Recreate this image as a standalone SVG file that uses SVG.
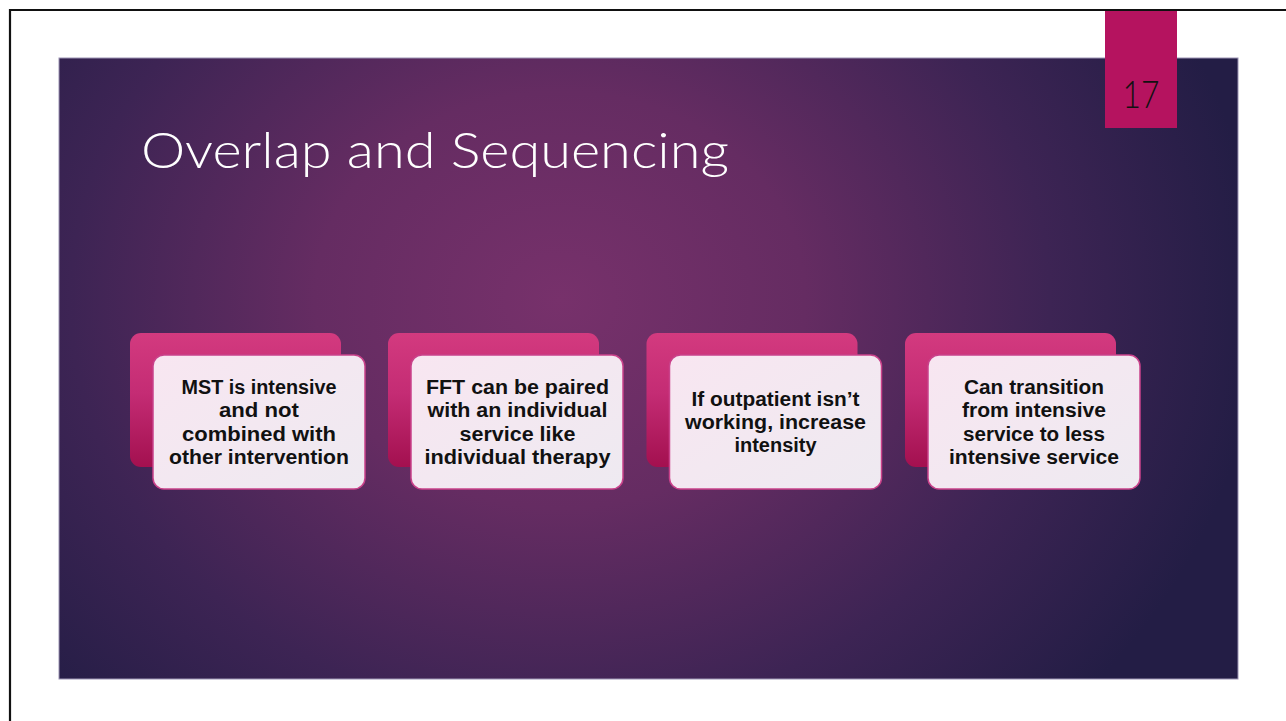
<svg xmlns="http://www.w3.org/2000/svg" width="1286" height="721" viewBox="0 0 1286 721">
  <defs>
    <radialGradient id="bg" gradientUnits="userSpaceOnUse" cx="560" cy="300" r="700" gradientTransform="translate(560 300) scale(1 0.85) translate(-560 -300)">
      <stop offset="0" stop-color="#77316b"/>
      <stop offset="0.35" stop-color="#652c62"/>
      <stop offset="0.7" stop-color="#3d2454"/>
      <stop offset="1" stop-color="#231d45"/>
    </radialGradient>
    <linearGradient id="back" x1="0" y1="0" x2="0" y2="1">
      <stop offset="0" stop-color="#d33a7f"/>
      <stop offset="0.45" stop-color="#c42c74"/>
      <stop offset="1" stop-color="#a3104f"/>
    </linearGradient>
    <linearGradient id="front" x1="0" y1="0" x2="1" y2="1">
      <stop offset="0" stop-color="#f8e6f1"/>
      <stop offset="1" stop-color="#eeeaf1"/>
    </linearGradient>
  </defs>
  <style>
    .back { fill: url(#back); }
    .front { fill: url(#front); stroke: #c9418a; stroke-width: 1.5; }
    .lbl { font-family: "Liberation Sans", Arial, sans-serif; font-weight: bold; font-size: 19.5px; fill: #111111; text-anchor: middle; }
    .frame { stroke: #111111; stroke-width: 2.2; fill: none; }
  </style>
  <rect x="0" y="0" width="1286" height="721" fill="#ffffff"/>
  <path class="frame" d="M10 721 V10 H1286"/>
  <g id="slide">
    <rect x="59" y="58" width="1179" height="621" fill="url(#bg)" stroke="#9c94b4" stroke-width="1"/>
  </g>
  <g id="page-number">
    <rect x="1105" y="11" width="72" height="117" fill="#b5135f"/>
    <text x="1141" y="108" font-family="Lato, 'Open Sans', sans-serif" font-weight="300" font-size="38" fill="#111111" text-anchor="middle" textLength="37" lengthAdjust="spacingAndGlyphs">17</text>
  </g>
  <g id="title">
    <text x="141" y="168" font-family="Lato, 'Open Sans', sans-serif" font-weight="300" font-size="50" fill="#ffffff" textLength="588" lengthAdjust="spacingAndGlyphs">Overlap and Sequencing</text>
  </g>
  <g id="card1">
    <rect class="back" x="130" y="333" width="211" height="134" rx="11"/>
    <rect class="front" x="153" y="355" width="212" height="134" rx="11"/>
    <text class="lbl" x="259" y="394" textLength="155" lengthAdjust="spacingAndGlyphs">MST is intensive</text>
    <text class="lbl" x="259" y="417" textLength="80" lengthAdjust="spacingAndGlyphs">and not</text>
    <text class="lbl" x="259" y="441" textLength="154" lengthAdjust="spacingAndGlyphs">combined with</text>
    <text class="lbl" x="259" y="464" textLength="180" lengthAdjust="spacingAndGlyphs">other intervention</text>
  </g>
  <g id="card2">
    <rect class="back" x="388" y="333" width="211" height="134" rx="11"/>
    <rect class="front" x="411" y="355" width="212" height="134" rx="11"/>
    <text class="lbl" x="517.5" y="394" textLength="183" lengthAdjust="spacingAndGlyphs">FFT can be paired</text>
    <text class="lbl" x="517.5" y="417" textLength="180" lengthAdjust="spacingAndGlyphs">with an individual</text>
    <text class="lbl" x="517.5" y="441" textLength="116" lengthAdjust="spacingAndGlyphs">service like</text>
    <text class="lbl" x="517.5" y="464" textLength="186" lengthAdjust="spacingAndGlyphs">individual therapy</text>
  </g>
  <g id="card3">
    <rect class="back" x="646.5" y="333" width="211" height="134" rx="11"/>
    <rect class="front" x="669.5" y="355" width="212" height="134" rx="11"/>
    <text class="lbl" x="775.5" y="406" textLength="168" lengthAdjust="spacingAndGlyphs">If outpatient isn’t</text>
    <text class="lbl" x="775.5" y="429" textLength="181" lengthAdjust="spacingAndGlyphs">working, increase</text>
    <text class="lbl" x="775.5" y="452" textLength="82" lengthAdjust="spacingAndGlyphs">intensity</text>
  </g>
  <g id="card4">
    <rect class="back" x="905" y="333" width="211" height="134" rx="11"/>
    <rect class="front" x="928" y="355" width="212" height="134" rx="11"/>
    <text class="lbl" x="1034" y="394" textLength="140" lengthAdjust="spacingAndGlyphs">Can transition</text>
    <text class="lbl" x="1034" y="417" textLength="144" lengthAdjust="spacingAndGlyphs">from intensive</text>
    <text class="lbl" x="1034" y="441" textLength="142" lengthAdjust="spacingAndGlyphs">service to less</text>
    <text class="lbl" x="1034" y="464" textLength="170" lengthAdjust="spacingAndGlyphs">intensive service</text>
  </g>
  <g id="connectors"></g>
</svg>
